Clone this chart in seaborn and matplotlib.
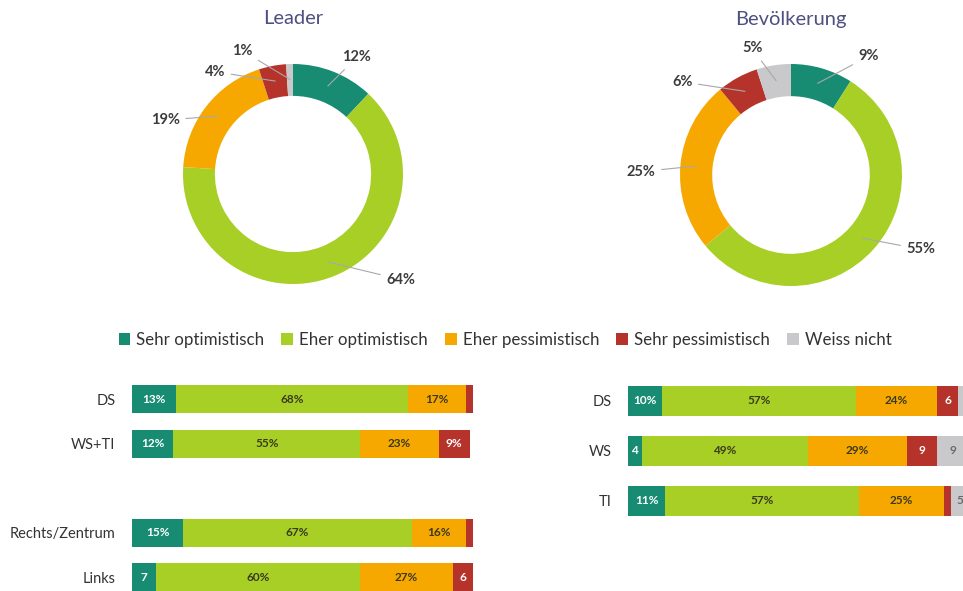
import numpy as np
import pandas as pd
import matplotlib
matplotlib.use("Agg")
import matplotlib.pyplot as plt
from matplotlib.patches import Patch
import seaborn as sns

# ---------------- data ----------------
categories = ["Sehr optimistisch", "Eher optimistisch", "Eher pessimistisch",
              "Sehr pessimistisch", "Weiss nicht"]
colors = ["#178c73", "#a8cf26", "#f7a800", "#b5332a", "#c9c9cb"]

leader_values = [12, 64, 19, 4, 1]
bevoelkerung_values = [9, 55, 25, 6, 5]

left_rows = ["DS", "WS+TI", "Rechts/Zentrum", "Links"]
left_sehr_opt = [13, 12, 15, 7]
left_eher_opt = [68, 55, 67, 60]
left_eher_pess = [17, 23, 16, 27]
left_sehr_pess = [2, 9, 2, 6]
left_weiss = [0, 0, 0, 0]

right_rows = ["DS", "WS", "TI"]
right_sehr_opt = [10, 4, 11]
right_eher_opt = [57, 49, 57]
right_eher_pess = [24, 29, 25]
right_sehr_pess = [6, 9, 2]
right_weiss = [3, 9, 5]

# label texts shown inside bar segments ("" = no label)
left_labels = [["13%", "68%", "17%", "", ""],
               ["12%", "55%", "23%", "9%", ""],
               ["15%", "67%", "16%", "", ""],
               ["7", "60%", "27%", "6", ""]]
right_labels = [["10%", "57%", "24%", "6", ""],
                ["4", "49%", "29%", "9", "9"],
                ["11%", "57%", "25%", "", "5"]]

# ---------------- style ----------------
sns.set_theme(style="white")
plt.rcParams["font.family"] = ["Lato", "DejaVu Sans"]

W, H = 963, 591
fig = plt.figure(figsize=(W / 100, H / 100), dpi=100)


def px_axes(x0, y0, x1, y1):
    """axes from pixel box (top-left origin)"""
    return fig.add_axes([x0 / W, 1 - y1 / H, (x1 - x0) / W, (y1 - y0) / H])


def donut(cx, cy, r, values, title, label_pos):
    ax = px_axes(cx - r, cy - r, cx + r, cy + r)
    wedges, _ = ax.pie(values, colors=colors, startangle=90, counterclock=False,
                       wedgeprops=dict(width=0.29, linewidth=0))
    ax.set_xlim(-1, 1)
    ax.set_ylim(-1, 1)
    ax.set_axis_off()
    for w, v, pos in zip(wedges, values, label_pos):
        mid = np.deg2rad((w.theta1 + w.theta2) / 2)
        ax.annotate(f"{v}%", xy=(0.86 * np.cos(mid), 0.86 * np.sin(mid)),
                    xytext=pos, ha="center", va="center", fontsize=10.5,
                    color="#3c3c3c", fontweight="bold",
                    arrowprops=dict(arrowstyle="-", color="#a8a8a8", lw=0.8,
                                    shrinkA=2, shrinkB=0))
    fig.text(cx / W, 1 - 19 / H, title, ha="center", va="center",
             fontsize=14.5, color="#4d5080")


donut(293, 174, 110, leader_values, "Leader",
      [(0.58, 1.06), (0.98, -0.96), (-1.16, 0.49), (-0.71, 0.93), (-0.46, 1.12)])
donut(791, 175, 111, bevoelkerung_values, "Bevölkerung",
      [(0.70, 1.07), (1.17, -0.67), (-1.35, 0.03), (-0.98, 0.84), (-0.35, 1.14)])


def stacked(ax, rows, order, series, labels, height):
    df = pd.DataFrame({"row": rows})
    vals = np.array(series, dtype=float)  # shape (5, nrows)
    cum = np.cumsum(vals, axis=0)
    for k in range(len(series) - 1, -1, -1):
        df["v"] = cum[k]
        sns.barplot(data=df, x="v", y="row", order=order, orient="h",
                    color=colors[k], width=height, linewidth=0, saturation=1,
                    ax=ax)
    pos = {name: i for i, name in enumerate(order)}
    for j, row in enumerate(rows):
        for k in range(len(series)):
            txt = labels[j][k]
            if not txt:
                continue
            c = cum[k][j] - vals[k][j] / 2
            tcol = "white" if k in (0, 3) else ("#6a6a6a" if k == 4 else "#3a3a1a")
            ax.text(c, pos[row], txt, ha="center", va="center", fontsize=8.5,
                    color=tcol, fontweight="bold")
    ax.set_xlim(0, 100)
    ax.set_xlabel("")
    ax.set_ylabel("")
    ax.set_xticks([])
    sns.despine(ax=ax, left=True, bottom=True)
    ax.tick_params(axis="y", length=0, pad=12, labelsize=10.5, labelcolor="#333333")


# left panel: rows at 399, 443, (gap), 532, 577 px -> pitch 44.5
axL = px_axes(132, 377, 473, 591)
stacked(axL, left_rows, ["DS", "WS+TI", " ", "Rechts/Zentrum", "Links"],
        [left_sehr_opt, left_eher_opt, left_eher_pess, left_sehr_pess, left_weiss],
        left_labels, 0.63)
axL.set_ylim(4.31, -0.5)

# right panel: rows at 401, 451, 501 px -> pitch 50
axR = px_axes(628, 376, 968, 526)
stacked(axR, right_rows, right_rows,
        [right_sehr_opt, right_eher_opt, right_eher_pess, right_sehr_pess, right_weiss],
        right_labels, 0.6)
axR.set_ylim(2.5, -0.5)

# legend
handles = [Patch(facecolor=c, edgecolor="none") for c in colors]
fig.legend(handles, categories, loc="center", bbox_to_anchor=(505 / W, 1 - 340 / H),
           ncol=5, frameon=False, fontsize=12.2, handlelength=0.7, handleheight=0.7,
           handletextpad=0.35, columnspacing=1.0, labelcolor="#333333")

fig.savefig("out.png", dpi=100, facecolor="white")
